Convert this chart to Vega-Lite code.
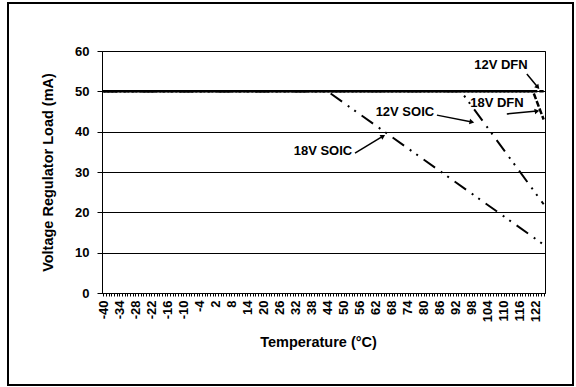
{
  "$schema": "https://vega.github.io/schema/vega-lite/v6.json",
  "width": 443,
  "height": 242,
  "autosize": {"type": "none"},
  "padding": {"left": 102, "top": 51, "right": 31, "bottom": 94},
  "background": "white",
  "config": {
    "font": "Liberation Sans",
    "view": {"stroke": "black", "strokeWidth": 1},
    "axis": {
      "labelFont": "Liberation Sans",
      "titleFont": "Liberation Sans",
      "labelFontWeight": "bold",
      "titleFontWeight": "bold",
      "labelFontSize": 13,
      "titleFontSize": 14.5,
      "labelColor": "black",
      "titleColor": "black",
      "domainColor": "black",
      "tickColor": "black",
      "labelOverlap": false
    }
  },
  "datasets": {
    "curves": [
      {"series": "18V SOIC", "temp": -40, "load": 50},
      {"series": "18V SOIC", "temp": 44, "load": 50},
      {"series": "18V SOIC", "temp": 125, "load": 12},
      {"series": "12V SOIC", "temp": -40, "load": 50},
      {"series": "12V SOIC", "temp": 94, "load": 50},
      {"series": "12V SOIC", "temp": 125, "load": 22},
      {"series": "18V DFN", "temp": -40, "load": 50},
      {"series": "18V DFN", "temp": 121, "load": 50},
      {"series": "18V DFN", "temp": 125, "load": 43},
      {"series": "12V DFN", "temp": -40, "load": 50},
      {"series": "12V DFN", "temp": 125, "load": 50}
    ],
    "labels": [
      {"label": "12V DFN", "tx": 109.0, "ty": 56.5, "ax": 118.7, "ay": 54.3, "hx": 122.8, "hy": 51.0, "angle": 139},
      {"label": "18V DFN", "tx": 107.5, "ty": 47.1, "ax": 111.2, "ay": 44.4, "hx": 122.5, "hy": 45.1, "angle": 80},
      {"label": "12V SOIC", "tx": 73.0, "ty": 44.9, "ax": 85.0, "ay": 44.1, "hx": 98.1, "hy": 42.4, "angle": 101},
      {"label": "18V SOIC", "tx": 42.3, "ty": 35.2, "ax": 54.3, "ay": 34.7, "hx": 64.8, "hy": 38.9, "angle": 59}
    ]
  },
  "layer": [
    {
      "data": {"values": [{}]},
      "mark": {"type": "rect", "fill": null, "fillOpacity": 0, "stroke": "black", "strokeWidth": 2},
      "encoding": {
        "x": {"value": -94},
        "x2": {"value": 471},
        "y": {"value": -48},
        "y2": {"value": 334}
      }
    },
    {
      "data": {"name": "curves"},
      "transform": [{"filter": "datum.series == '18V SOIC' || datum.series == '12V SOIC'"}],
      "mark": {"type": "line", "color": "black", "strokeWidth": 2, "strokeCap": "butt", "strokeDash": [14, 7, 2, 6, 2, 7]},
      "encoding": {
        "x": {
          "field": "temp",
          "type": "quantitative",
          "scale": {"domain": [-40.5, 125.5], "nice": false, "zero": false},
          "axis": {
            "title": "Temperature (°C)",
            "values": [-40,-39,-38,-37,-36,-35,-34,-33,-32,-31,-30,-29,-28,-27,-26,-25,-24,-23,-22,-21,-20,-19,-18,-17,-16,-15,-14,-13,-12,-11,-10,-9,-8,-7,-6,-5,-4,-3,-2,-1,0,1,2,3,4,5,6,7,8,9,10,11,12,13,14,15,16,17,18,19,20,21,22,23,24,25,26,27,28,29,30,31,32,33,34,35,36,37,38,39,40,41,42,43,44,45,46,47,48,49,50,51,52,53,54,55,56,57,58,59,60,61,62,63,64,65,66,67,68,69,70,71,72,73,74,75,76,77,78,79,80,81,82,83,84,85,86,87,88,89,90,91,92,93,94,95,96,97,98,99,100,101,102,103,104,105,106,107,108,109,110,111,112,113,114,115,116,117,118,119,120,121,122,123,124,125],
            "tickCount": 1000,
            "labelExpr": "(datum.value + 40) % 6 == 0 ? ('' + datum.value) : ''",
            "labelFontSize": {"condition": {"test": "(datum.value + 40) % 6 == 0", "value": 13}, "value": 0.01},
            "labelAngle": -90,
            "labelOverlap": false,
            "labelSeparation": 0,
            "labelFlush": false,
            "labelBound": false,
            "tickSize": 3,
            "labelPadding": 4,
            "titlePadding": 14,
            "titleX": 216,
            "grid": false
          }
        },
        "y": {
          "field": "load",
          "type": "quantitative",
          "scale": {"domain": [0, 60], "nice": false},
          "axis": {
            "title": "Voltage Regulator Load (mA)",
            "values": [0, 10, 20, 30, 40, 50, 60],
            "tickSize": 5,
            "labelPadding": 8,
            "titlePadding": 19,
            "grid": true,
            "gridColor": "black",
            "gridWidth": 1,
            "gridOpacity": 1
          }
        },
        "detail": {"field": "series", "type": "nominal"}
      }
    },
    {
      "data": {"name": "curves"},
      "transform": [{"filter": "datum.series == '18V DFN'"}],
      "mark": {"type": "line", "color": "black", "strokeWidth": 2.5, "strokeCap": "butt", "strokeDash": [6, 2]},
      "encoding": {
        "x": {"field": "temp", "type": "quantitative"},
        "y": {"field": "load", "type": "quantitative"}
      }
    },
    {
      "data": {"name": "curves"},
      "transform": [{"filter": "datum.series == '12V DFN'"}],
      "mark": {"type": "line", "color": "black", "strokeWidth": 2.5, "strokeCap": "butt", "strokeDash": [6, 2], "strokeDashOffset": 4},
      "encoding": {
        "x": {"field": "temp", "type": "quantitative"},
        "y": {"field": "load", "type": "quantitative"}
      }
    },
    {
      "data": {"name": "labels"},
      "mark": {"type": "text", "font": "Liberation Sans", "fontWeight": "bold", "fontSize": 13, "color": "black"},
      "encoding": {
        "x": {"field": "tx", "type": "quantitative"},
        "y": {"field": "ty", "type": "quantitative"},
        "text": {"field": "label"}
      }
    },
    {
      "data": {"name": "labels"},
      "mark": {"type": "rule", "color": "black", "strokeWidth": 1.5},
      "encoding": {
        "x": {"field": "ax", "type": "quantitative"},
        "y": {"field": "ay", "type": "quantitative"},
        "x2": {"field": "hx"},
        "y2": {"field": "hy"}
      }
    },
    {
      "data": {"name": "labels"},
      "mark": {"type": "point", "shape": "triangle-up", "filled": true, "color": "black", "size": 30, "opacity": 1},
      "encoding": {
        "x": {"field": "hx", "type": "quantitative"},
        "y": {"field": "hy", "type": "quantitative"},
        "angle": {"field": "angle", "type": "quantitative", "scale": null}
      }
    }
  ]
}
